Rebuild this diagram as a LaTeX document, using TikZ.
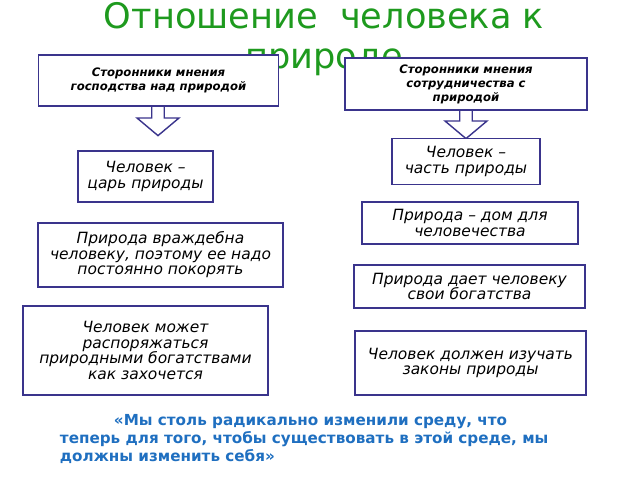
\documentclass[tikz,border=0pt]{standalone}
\usepackage{fontspec}
\setmainfont{DejaVu Sans}
\usetikzlibrary{shapes.arrows}
\definecolor{boxline}{HTML}{3A348C}
\definecolor{titlegreen}{HTML}{1E9A1E}
\definecolor{quoteblue}{HTML}{1F6FC0}
\tikzset{
  opinion/.style={draw=boxline, line width=1.2pt, fill=white, align=center, font=\fontsize{8.3}{10}\selectfont\bfseries\itshape, inner sep=2pt},
  thesis/.style={draw=boxline, line width=1.2pt, fill=white, align=center, font=\fontsize{11}{11}\selectfont\itshape, inner sep=2pt},
  downarrow/.style={single arrow, draw=boxline, line width=1pt, fill=white, shape border rotate=270, minimum height=0.85cm, minimum width=1.05cm, single arrow head extend=0.25cm, single arrow tip angle=100, inner sep=2.5pt}
}
\begin{document}
\begin{tikzpicture}[x=0.025cm,y=-0.025cm]
\useasboundingbox (0,0) rectangle (640,480);
\node[text=titlegreen, font=\fontsize{25}{28}\selectfont, align=center] (title) at (324,39) {Отношение\ \ человека к\\природе};
\node[downarrow] (ruledown) at (158,116) {};
\node[downarrow] (coopdown) at (466,119) {};
\node[opinion, minimum width=6.0cm, minimum height=1.27cm] (rule) at (158.5,80.5) {Сторонники мнения\\господства над природой};
\node[opinion, minimum width=6.05cm, minimum height=1.3cm] (coop) at (466,84) {Сторонники мнения\\сотрудничества с\\природой};
\node[thesis, minimum width=3.37cm, minimum height=1.27cm] (tsar) at (145.5,176.5) {Человек –\\ царь природы};
\node[thesis, minimum width=3.7cm, minimum height=1.15cm] (part) at (466,161.5) {Человек –\\часть природы};
\node[thesis, minimum width=5.4cm, minimum height=1.05cm] (home) at (470,223) {Природа – дом для\\человечества};
\node[thesis, minimum width=6.12cm, minimum height=1.6cm] (enemy) at (160.5,255) {Природа враждебна\\ человеку, поэтому ее надо\\постоянно покорять};
\node[thesis, minimum width=5.77cm, minimum height=1.07cm] (wealth) at (469.5,286.5) {Природа дает человеку\\свои богатства};
\node[thesis, minimum width=6.12cm, minimum height=2.22cm] (dispose) at (145.5,350.5) {Человек может\\распоряжаться\\природными богатствами\\как захочется};
\node[thesis, minimum width=5.77cm, minimum height=1.6cm] (study) at (470.5,363) {Человек должен изучать\\ законы природы};
\node[text=quoteblue, font=\fontsize{10.8}{13}\selectfont\bfseries, align=left, anchor=north west] (quote) at (55,409) {\hspace{1.35cm}«Мы столь радикально изменили среду, что\\теперь для того, чтобы существовать в этой среде, мы\\должны изменить себя»};
\end{tikzpicture}
\end{document}
